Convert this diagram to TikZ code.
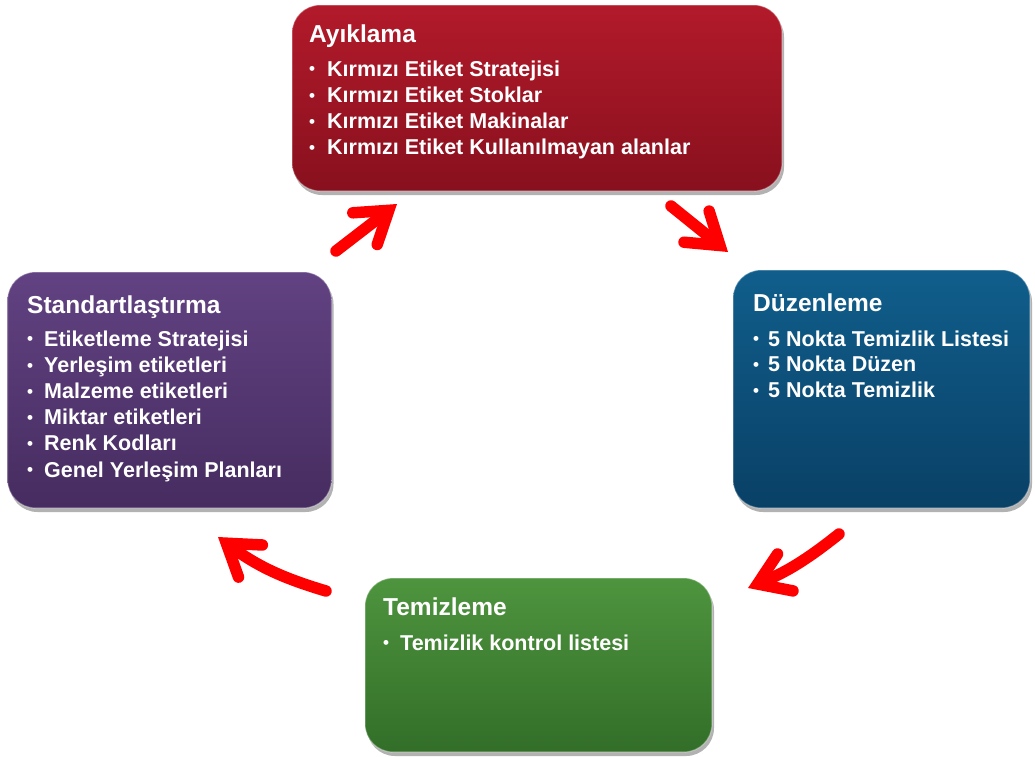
\documentclass[tikz,border=0pt]{standalone}
\usepackage{fontspec}
\setmainfont{Liberation Sans}
\usetikzlibrary{arrows.meta,shadows}
\definecolor{redT}{RGB}{178,26,42}
\definecolor{redB}{RGB}{136,16,30}
\definecolor{bluT}{RGB}{16,94,140}
\definecolor{bluB}{RGB}{9,64,102}
\definecolor{grnT}{RGB}{78,148,62}
\definecolor{grnB}{RGB}{50,110,40}
\definecolor{purT}{RGB}{98,66,130}
\definecolor{purB}{RGB}{70,44,96}
\newcommand{\bul}[1]{\makebox[#1][l]{\fontsize{17}{17}\selectfont\raisebox{1.2pt}{•}}}
\begin{document}
\begin{tikzpicture}[x=1pt,y=-1pt,
  box/.style={rounded corners=28pt, inner sep=0pt, draw=white, draw opacity=0.35, line width=1.2pt,
    drop shadow={shadow xshift=2pt, shadow yshift=-4pt, opacity=0.3, fill=black}},
  ttl/.style={anchor=base west, inner sep=0pt, text=white, font=\fontsize{24.5}{29}\selectfont\bfseries},
  itm/.style={anchor=base west, inner sep=0pt, text=white, font=\fontsize{21.5}{26}\selectfont\bfseries},
  cyc/.style={draw=red, line width=11.5pt, line cap=round,
    -{Straight Barb[length=30pt, width=40pt, line cap=round, line join=miter]}}]
\useasboundingbox (0,0) rectangle (1035,756);

% boxes
\node[box, minimum width=490pt, minimum height=186pt, top color=redT, bottom color=redB] (ayk) at (537,98) {};
\node[box, minimum width=297pt, minimum height=238pt, top color=bluT, bottom color=bluB] (duz) at (881.5,389) {};
\node[box, minimum width=347pt, minimum height=174pt, top color=grnT, bottom color=grnB] (tem) at (538.5,665) {};
\node[box, minimum width=324pt, minimum height=236pt, top color=purT, bottom color=purB] (std) at (169.5,390) {};

% texts
\node[ttl] (aykT) at (309,42) {Ayıklama};
\foreach \t [count=\i] in {Kırmızı Etiket Stratejisi, Kırmızı Etiket Stoklar, Kırmızı Etiket Makinalar, Kırmızı Etiket Kullanılmayan alanlar}
  \node[itm] (aykI\i) at (309,{76+26.3*(\i-1)}) {\bul{18pt}\t};

\node[ttl] (duzT) at (753,311) {Düzenleme};
\foreach \t [count=\i] in {5 Nokta Temizlik Listesi, 5 Nokta Düzen, 5 Nokta Temizlik}
  \node[itm] (duzI\i) at (753,{346+25.7*(\i-1)}) {\bul{15pt}\t};

\node[ttl] (temT) at (383,615) {Temizleme};
\node[itm] (temI1) at (383,650) {\bul{17pt}Temizlik kontrol listesi};

\node[ttl] (stdT) at (27,313) {Standartlaştırma};
\foreach \t [count=\i] in {Etiketleme Stratejisi, Yerleşim etiketleri, Malzeme etiketleri, Miktar etiketleri, Renk Kodları, Genel Yerleşim Planları}
  \node[itm] (stdI\i) at (27,{346+26.2*(\i-1)}) {\bul{17pt}\t};

% arrows
\coordinate (a1s) at (336,251); \coordinate (a1e) at (397,204);
\coordinate (a2s) at (671,206); \coordinate (a2e) at (728,252);
\coordinate (a3s) at (839,534); \coordinate (a3e) at (748,588);
\coordinate (a4s) at (326,591); \coordinate (a4e) at (218,537);
\draw[cyc] (a1s) -- (a1e);
\draw[cyc] (a2s) -- (a2e);
\draw[cyc] (a3s) to[bend left=8] (a3e);
\draw[cyc] (a4s) to[bend left=10] (a4e);
\end{tikzpicture}
\end{document}
